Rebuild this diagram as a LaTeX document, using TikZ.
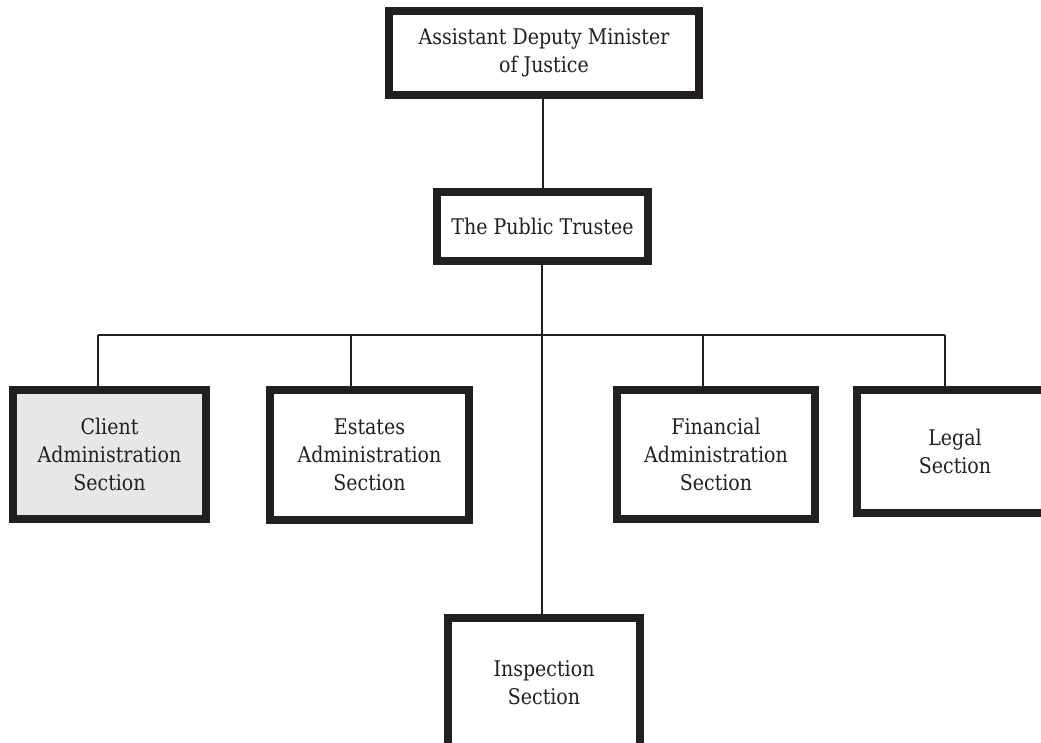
\documentclass[tikz,border=0pt]{standalone}
\usepackage{fontspec}
\setmainfont{DejaVu Serif}[FakeStretch=0.88]

\definecolor{ink}{RGB}{35,31,32}
\definecolor{shade}{RGB}{230,231,233}

\begin{document}
\begin{tikzpicture}[x=0.75pt,y=-0.75pt,
  unit/.style={draw=ink,line width=6.5pt,fill=white,text=ink,align=center,inner sep=0pt,
    font=\fontsize{16.2}{21}\selectfont},
  link/.style={draw=ink,line width=1.3pt}]
\useasboundingbox (0,0) rectangle (1041,742);
\clip (0,0) rectangle (1041,742);
\fill[white] (0,0) rectangle (1041,742);

\node[unit,minimum width=232.5pt,minimum height=63pt] (adm) at (544,53)
  {Assistant Deputy Minister\\of Justice};
\node[unit,minimum width=158.25pt,minimum height=51.75pt] (trustee) at (542.5,226.5)
  {The Public Trustee};

% sections
\node[unit,fill=shade,minimum width=144.75pt,minimum height=96.75pt] (client) at (109.5,454.5)
  {Client\\Administration\\Section};
\node[unit,minimum width=149.25pt,minimum height=97.5pt] (estates) at (369.5,455)
  {Estates\\Administration\\Section};
\node[unit,minimum width=148.5pt,minimum height=96.75pt] (financial) at (716,454.5)
  {Financial\\Administration\\Section};
\node[unit,minimum width=147pt,minimum height=92.25pt] (legal) at (955,451.5)
  {Legal\\Section};
\node[unit,minimum width=144pt,minimum height=97.5pt] (inspection) at (544,683)
  {Inspection\\Section};

\coordinate (busL) at (98,335);
\coordinate (busR) at (945,335);
\coordinate (tap2) at (351,335);
\coordinate (tap3) at (703,335);

\draw[link] (adm.south -| 543,0) -- (trustee.north -| 543,0);
\draw[link] (trustee.south -| 542,0) -- (inspection.north -| 542,0);
\draw[link] (busL) -- (busR);
\foreach \t/\n in {busL/client,tap2/estates,tap3/financial,busR/legal}
  \draw[link] (\t) -- (\t |- \n.north);
\end{tikzpicture}
\end{document}
